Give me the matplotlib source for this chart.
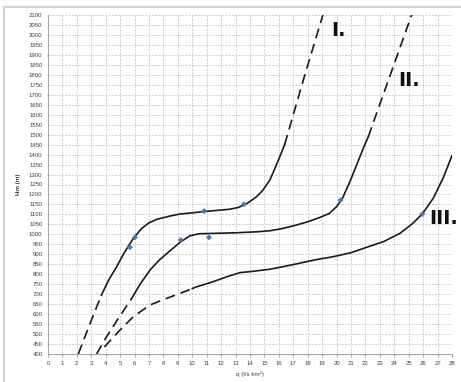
import matplotlib
matplotlib.use("Agg")
import matplotlib.pyplot as plt
from matplotlib.lines import Line2D

# ---- data ----
# Curve I
c1_dash_lo_q = [2.1, 2.9, 3.7]
c1_dash_lo_h = [400, 550, 695]
c1_solid_q = [3.7, 4.2, 4.76, 5.3, 5.91, 6.5, 7.0, 7.53, 8.46, 9.15, 10.0, 10.76, 11.7, 12.6, 13.2, 13.8, 14.46, 14.9, 15.38, 15.9, 16.4]
c1_solid_h = [695, 770, 838, 910, 980, 1030, 1058, 1075, 1092, 1102, 1108, 1114, 1120, 1126, 1135, 1155, 1189, 1222, 1273, 1360, 1450]
c1_dash_hi_q = [16.4, 17.7, 19.05]
c1_dash_hi_h = [1450, 1775, 2100]

# Curve II
c2_dash_lo_q = [3.37, 4.0, 4.8, 5.8]
c2_dash_lo_h = [400, 480, 570, 679]
c2_solid_q = [5.8, 6.4, 7.07, 7.7, 8.46, 9.15, 9.84, 10.5, 11.5, 13.07, 14.5, 15.38, 16.3, 17.23, 18.0, 18.85, 19.5, 20.0, 20.4, 20.9, 21.4, 21.9, 22.2]
c2_solid_h = [679, 752, 821, 870, 918, 960, 993, 1003, 1005, 1008, 1013, 1018, 1030, 1047, 1063, 1085, 1105, 1139, 1180, 1260, 1350, 1440, 1490]
c2_dash_hi_q = [22.2, 23.7, 25.2]
c2_dash_hi_h = [1490, 1795, 2100]

# Curve III
c3_dash_q = [3.9, 4.99, 5.91, 7.07, 8.22, 9.0, 10.0]
c3_dash_h = [435, 520, 587, 646, 679, 700, 728]
c3_solid_q = [10.0, 10.3, 11.46, 12.5, 13.3, 14.0, 15.38, 16.3, 17.23, 18.5, 19.77, 21.0, 22.08, 23.3, 24.39, 25.2, 25.94, 26.7, 27.4, 28.0]
c3_solid_h = [728, 737, 763, 790, 808, 813, 825, 838, 852, 872, 888, 908, 935, 965, 1005, 1050, 1102, 1181, 1285, 1395]

# measured points
pts_q = [5.68, 6.03, 10.83, 13.58, 9.2, 11.16, 20.28, 25.94]
pts_h = [935, 985, 1117, 1151, 972, 985, 1172, 1102]

curve_labels = ["I.", "II.", "III."]
label_q = [19.6, 24.3, 26.4]
label_h = [2020, 1770, 1080]

x_ticks = list(range(0, 29))
y_ticks = list(range(400, 2101, 50))

# ---- figure ----
W, H = 461, 382
fig = plt.figure(figsize=(W / 100, H / 100), dpi=100)
fig.patch.set_facecolor("white")

# outer chart frame (left & top visible)
fig.add_artist(Line2D([4 / W, 4 / W], [0, 1 - 7 / H], transform=fig.transFigure,
                      color="#d4d4d4", lw=1.6))
fig.add_artist(Line2D([4 / W, 1], [1 - 7 / H, 1 - 7 / H], transform=fig.transFigure,
                      color="#d4d4d4", lw=1.6))

ax = fig.add_axes([48 / W, 1 - 354 / H, (452 - 48) / W, (354 - 15) / H])
ax.set_xlim(0, 28)
ax.set_ylim(400, 2100)
ax.set_xticks(x_ticks)
ax.set_yticks(y_ticks)
ax.set_xticklabels([str(v) for v in x_ticks])
ax.set_yticklabels([str(v) for v in y_ticks])

ax.grid(True, color="#c8c8c8", lw=0.6, linestyle=(0, (2.5, 1.5)))
ax.set_axisbelow(True)
for s in ["top", "right"]:
    ax.spines[s].set_visible(False)
for s in ["left", "bottom"]:
    ax.spines[s].set_color("#a8a8a8")
    ax.spines[s].set_linewidth(0.8)

ax.tick_params(axis="both", labelsize=4.3, colors="#404040", length=0, pad=4)
ax.tick_params(axis="x", length=2, color="#a8a8a8", pad=3)
for lab in ax.get_xticklabels() + ax.get_yticklabels():
    lab.set_fontfamily("Liberation Sans")

dash = (0, (6, 3.5))
lw = 1.2
col = "#1a1a1a"
ax.plot(c1_dash_lo_q, c1_dash_lo_h, color=col, lw=lw, linestyle=dash)
ax.plot(c1_solid_q, c1_solid_h, color=col, lw=lw)
ax.plot(c1_dash_hi_q, c1_dash_hi_h, color=col, lw=lw, linestyle=dash)
ax.plot(c2_dash_lo_q, c2_dash_lo_h, color=col, lw=lw, linestyle=dash)
ax.plot(c2_solid_q, c2_solid_h, color=col, lw=lw)
ax.plot(c2_dash_hi_q, c2_dash_hi_h, color=col, lw=lw, linestyle=dash)
ax.plot(c3_dash_q, c3_dash_h, color=col, lw=lw, linestyle=dash)
ax.plot(c3_solid_q, c3_solid_h, color=col, lw=lw)

ax.scatter(pts_q, pts_h, marker="D", s=9, color="#4a76b0", zorder=5, edgecolors="none")

for t, q, h in zip(curve_labels, label_q, label_h):
    ax.text(q, h, t, fontsize=14, fontweight="bold", color="#111111",
            ha="left", va="center", family="Liberation Sans Narrow")

ax.set_xlabel("q (l/s km²)", fontsize=4.5, color="#404040", labelpad=4,
              family="Liberation Sans")
ax.set_ylabel("Hm (m)", fontsize=4.5, color="#404040", fontweight="bold",
              labelpad=6, family="Liberation Sans")

fig.savefig("out.png", dpi=100)
